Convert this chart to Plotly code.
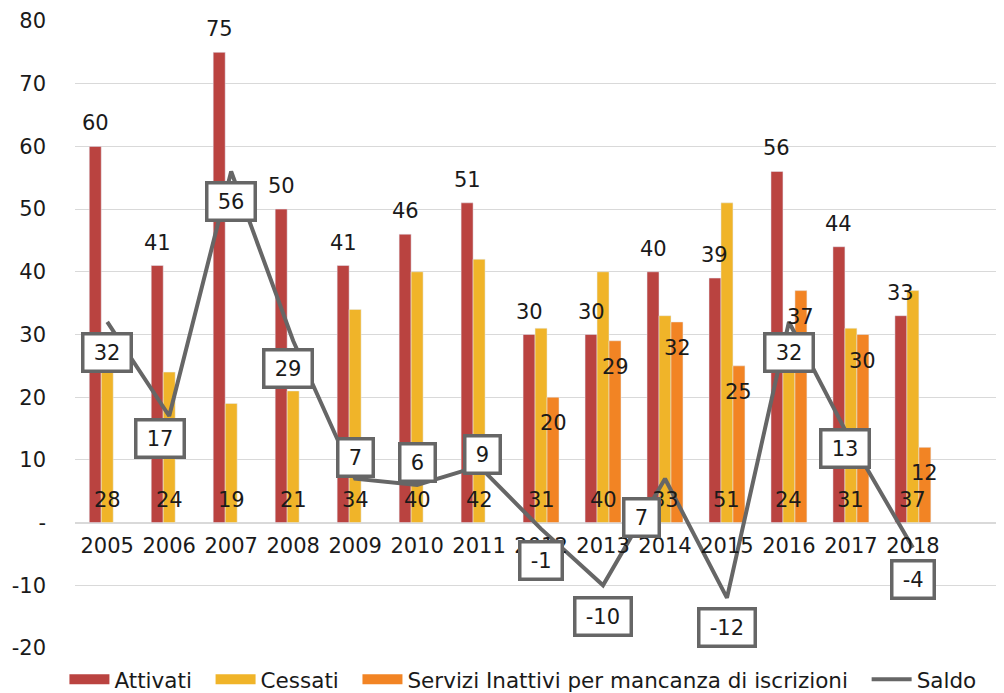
import plotly.graph_objects as go

# --- data ---
anni = ["2005", "2006", "2007", "2008", "2009", "2010", "2011",
        "2012", "2013", "2014", "2015", "2016", "2017", "2018"]
attivati = [60, 41, 75, 50, 41, 46, 51, 30, 30, 40, 39, 56, 44, 33]
cessati = [28, 24, 19, 21, 34, 40, 42, 31, 40, 33, 51, 24, 31, 37]
inattivi = [None, None, None, None, None, None, None, 20, 29, 32, 25, 37, 30, 12]
saldo = [32, 17, 56, 29, 7, 6, 9, -1, -10, 7, -12, 32, 13, -4]

y_ticks = [80, 70, 60, 50, 40, 30, 20, 10, 0, -10, -20]
y_ticktext = ["80", "70", "60", "50", "40", "30", "20", "10", "-", "-10", "-20"]

# pixel nudges of the boxed Saldo labels (the original placed them by hand)
saldo_lab_dx = [0, -9, 0, -5, 0, 0, 3, 0, 0, -24, 0, 0, -6, 0]
saldo_lab_dy = [-31, -22, -30, -28, 21, 22, 12, -32, -31, -39, -30, -31, -7, -32]

FONT = "DejaVu Sans, sans-serif"
FS = 21
TXT = "#1a1a1a"
RED = "#BA4340"
YELLOW = "#F0B429"
ORANGE = "#F28424"
GRAY = "#666666"
GRID = "#d9d9d9"
BAR_W = 12  # px width of one bar, used to shift labels over their own bar
NB = "&nbsp;"

series = [
    ("Attivati", RED),
    ("Cessati", YELLOW),
    ("Servizi Inattivi per mancanza di iscrizioni", ORANGE),
]

fig = go.Figure()

fig.add_trace(go.Bar(x=anni, y=attivati, name=series[0][0], marker_color=RED, showlegend=False))
fig.add_trace(go.Bar(x=anni, y=cessati, name=series[1][0], marker_color=YELLOW, showlegend=False))
fig.add_trace(go.Bar(x=anni, y=inattivi, name=series[2][0], marker_color=ORANGE, showlegend=False))
fig.add_trace(go.Scatter(
    x=anni, y=saldo, name="Saldo", mode="lines", showlegend=False,
    line=dict(color=GRAY, width=4),
))

# legend entries: wide flat swatches like the original
for name, col in series:
    fig.add_trace(go.Scatter(
        x=[None], y=[None], name=name + NB * 2, mode="lines",
        line=dict(color=col, width=12),
    ))
fig.add_trace(go.Scatter(
    x=[None], y=[None], name="Saldo", mode="lines",
    line=dict(color=GRAY, width=4),
))

lab_font = dict(size=FS, color=TXT, family=FONT)

# Attivati: above the bar end
for i, v in enumerate(attivati):
    fig.add_annotation(x=i, y=v, text=str(v), showarrow=False, yanchor="bottom",
                       xshift=-BAR_W, yshift=9, font=lab_font)

# Cessati: at the bar base
for i, v in enumerate(cessati):
    fig.add_annotation(x=i, y=0, text=str(v), showarrow=False, yanchor="bottom",
                       yshift=9, font=lab_font)

# Servizi inattivi: inside the bar end
for i, v in enumerate(inattivi):
    if v is None:
        continue
    fig.add_annotation(x=i, y=v, text=str(v), showarrow=False, yanchor="top",
                       xshift=BAR_W, yshift=-12, font=lab_font)

# boxed labels for Saldo
for i, v in enumerate(saldo):
    fig.add_annotation(
        x=i, y=v, text="&#8201;" + str(v) + "&#8201;", showarrow=False,
        xshift=saldo_lab_dx[i], yshift=saldo_lab_dy[i], font=lab_font,
        bordercolor=GRAY, borderwidth=3.5, borderpad=5, bgcolor="white",
    )

fig.update_xaxes(
    type="category", range=[-0.52, 14.47],
    anchor="free", position=0.2, automargin=False,
    showline=False, showgrid=False, ticks="",
    tickfont=lab_font, ticklabelstandoff=8,
)
fig.update_yaxes(
    range=[-20, 80], tickvals=y_ticks, ticktext=y_ticktext, automargin=False,
    showgrid=True, gridcolor=GRID, gridwidth=1.3,
    zeroline=True, zerolinecolor=GRID, zerolinewidth=1.5,
    showline=False, ticks="",
    tickfont=lab_font, ticklabelstandoff=28,
)

# page body adds an 8px margin, so the figure is 8px smaller on each axis
fig.update_layout(
    width=996, height=685,
    margin=dict(l=67, r=0, t=13, b=45),
    plot_bgcolor="white", paper_bgcolor="white",
    barmode="group", bargap=0.42, bargroupgap=0,
    font=dict(family=FONT, size=FS, color=TXT),
    showlegend=True,
    legend=dict(
        orientation="h", xref="container", yref="container",
        x=0.517, xanchor="center", y=0.02, yanchor="middle",
        font=dict(size=21.5, color=TXT, family=FONT),
        itemwidth=40, tracegroupgap=0,
    ),
)

fig.write_html("out.html")
